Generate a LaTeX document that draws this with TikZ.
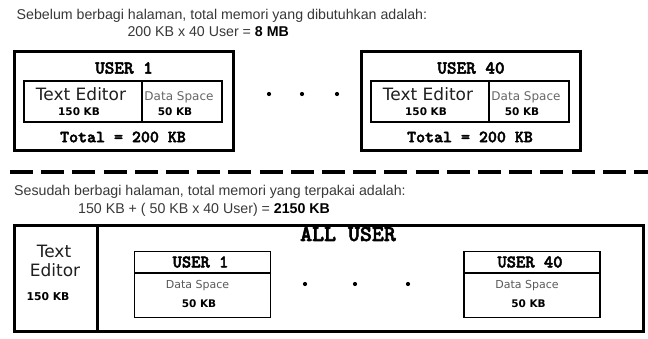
\documentclass[tikz,border=0pt]{standalone}
\usepackage{fontspec}
\setmainfont{Liberation Sans}
\newfontfamily\monofam{lmmonolt10-bold.otf}[BoldFont={lmmonolt10-bold.otf}, BoldFeatures={FakeBold=2.5}]
\newfontfamily\verdfam{DejaVu Sans}
\begin{document}
\begin{tikzpicture}[x=1pt,y=-1pt,
  heavybox/.style={draw, line width=3pt, inner sep=0pt},
  midbox/.style={draw, line width=2pt, inner sep=0pt},
  thinbox/.style={draw, line width=1.3pt, inner sep=0pt},
  capt/.style={font=\fontsize{14.2}{16}\selectfont, text=black!78, inner sep=0pt, anchor=base west},
  monolbl/.style={font=\monofam\bfseries\fontsize{#1}{#1}\selectfont, inner sep=0pt},
  bigsans/.style={font=\verdfam\fontsize{17}{19}\selectfont, text=black!88, inner sep=0pt},
  smallsans/.style={font=\verdfam\fontsize{#1}{#1}\selectfont, text=black!60, inner sep=0pt},
  sizelbl/.style={font=\verdfam\bfseries\fontsize{10.5}{11}\selectfont, inner sep=0pt},
  dot/.style={circle, fill, inner sep=0pt, minimum size=4.2pt},
  sepline/.style={line width=4pt, dash pattern=on 23pt off 8.2pt}
]
\useasboundingbox (0,0) rectangle (648,338);

% ---- before sharing ----
\node[capt] (capA) at (16.5,19.5) {Sebelum berbagi halaman, total memori yang dibutuhkan adalah:};
\node[capt] (sumA) at (127.3,36.5) {200 KB x 40 User = \textbf{\color{black}8 MB}};

\foreach \cx/\id/\num in {124/a/1, 471/b/40} {
  \node[heavybox, minimum width=219pt, minimum height=99pt] (outer\id) at (\cx,101) {};
  \node[midbox, minimum width=118pt, minimum height=41pt] (edit\id) at (\cx-41,101.5) {};
  \node[midbox, minimum width=80pt, minimum height=41pt] (data\id) at (\cx+58,101.5) {};
  \node[monolbl=18.3] (user\id) at (\cx,68) {USER \num};
  \node[bigsans] (edt\id) at (\cx-43,94) {Text Editor};
  \node[sizelbl] (esz\id) at (\cx-45,112) {150 KB};
  \node[smallsans=12] (dsp\id) at (\cx+55,97) {Data Space};
  \node[sizelbl] (dsz\id) at (\cx+51,112) {50 KB};
  \node[monolbl=17.1] (tot\id) at (\cx-1,137) {Total = 200 KB};
}
\node[dot] (ta) at (269,94) {};
\node[dot] (tb) at (302,94) {};
\node[dot] (tc) at (337,94) {};

% ---- separator ----
\coordinate (sepL) at (10,172);
\coordinate (sepR) at (648,172);
\draw[sepline] (sepL) -- (sepR);

% ---- after sharing ----
\node[capt] (capB) at (14,195) {Sesudah berbagi halaman, total memori yang terpakai adalah:};
\node[capt] (sumB) at (78,213) {150 KB + ( 50 KB x 40 User) = \textbf{\color{black}2150 KB}};

\node[heavybox, minimum width=82.5pt, minimum height=106pt] (shared) at (55.75,278.5) {};
\node[heavybox, minimum width=546.5pt, minimum height=106pt] (alluser) at (370.25,278.5) {};
\node[bigsans] (shT) at (54,251) {Text};
\node[bigsans] (shE) at (55,270) {Editor};
\node[sizelbl, font=\verdfam\bfseries\fontsize{10.8}{11}\selectfont] (shS) at (48,297) {150 KB};
\node[monolbl=22.8] (allT) at (348,234) {ALL USER};

\foreach \cx/\id/\num in {202.5/c/1, 532/d/40} {
  \node[thinbox, minimum width=136pt, minimum height=21.4pt] (head\id) at (\cx,262.3) {};
  \node[thinbox, minimum width=136pt, minimum height=44.4pt] (body\id) at (\cx,295.2) {};
  \node[monolbl=17.7] (uu\id) at (\cx-2,262) {USER \num};
  \node[smallsans=11, text=black!65] (ds\id) at (\cx-5,286) {Data Space};
  \node[sizelbl] (dz\id) at (\cx-3.5,304) {50 KB};
}
\node[dot] (ba) at (305,284) {};
\node[dot] (bb) at (355,284) {};
\node[dot] (bc) at (408,284) {};
\end{tikzpicture}
\end{document}
